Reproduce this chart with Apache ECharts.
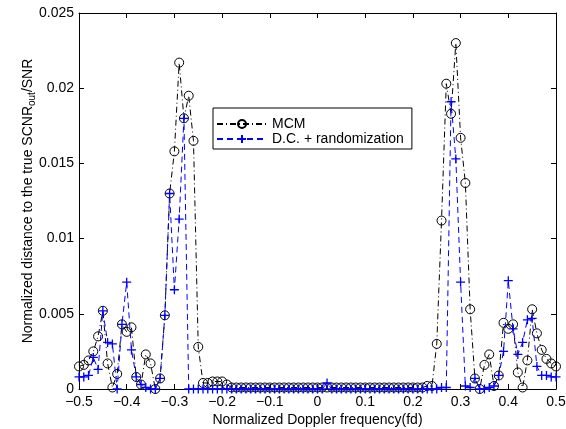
<!DOCTYPE html>
<html><head><meta charset="utf-8">
<script src="https://cdn.jsdelivr.net/npm/echarts@6/dist/echarts.min.js"></script>
<style>html,body{margin:0;padding:0;background:#fff}#c{width:566px;height:429px}</style>
</head><body><div id="c"></div>
<script>
// Normalized Doppler frequency grid
const freqs = [
 -0.50,-0.49,-0.48,-0.47,-0.46,-0.45,-0.44,-0.43,-0.42,-0.41,
 -0.40,-0.39,-0.38,-0.37,-0.36,-0.35,-0.34,-0.33,-0.32,-0.31,
 -0.30,-0.29,-0.28,-0.27,-0.26,-0.25,-0.24,-0.23,-0.22,-0.21,
 -0.20,-0.19,-0.18,-0.17,-0.16,-0.15,-0.14,-0.13,-0.12,-0.11,
 -0.10,-0.09,-0.08,-0.07,-0.06,-0.05,-0.04,-0.03,-0.02,-0.01,
  0.00, 0.01, 0.02, 0.03, 0.04, 0.05, 0.06, 0.07, 0.08, 0.09,
  0.10, 0.11, 0.12, 0.13, 0.14, 0.15, 0.16, 0.17, 0.18, 0.19,
  0.20, 0.21, 0.22, 0.23, 0.24, 0.25, 0.26, 0.27, 0.28, 0.29,
  0.30, 0.31, 0.32, 0.33, 0.34, 0.35, 0.36, 0.37, 0.38, 0.39,
  0.40, 0.41, 0.42, 0.43, 0.44, 0.45, 0.46, 0.47, 0.48, 0.49,
  0.50
];
// MCM
const mcm = [
 0.0015,0.0016,0.0019,0.0025,0.0035,0.0052,0.0017,0.0001,0.0010,0.0043,
 0.0038,0.0041,0.0008,0.0003,0.0023,0.0017,0.0000,0.0007,0.0049,0.0130,
 0.0158,0.0217,0.0180,0.0195,0.0165,0.0028,0.0004,0.0004,0.0005,0.0005,
 0.0005,0.0003,0.0001,0.0001,0.0001,0.0001,0.0001,0.0001,0.0001,0.0001,
 0.0001,0.0001,0.0001,0.0001,0.0001,0.0001,0.0001,0.0001,0.0001,0.0001,
 0.0001,0.0001,0.0001,0.0001,0.0001,0.0001,0.0001,0.0001,0.0001,0.0001,
 0.0001,0.0001,0.0001,0.0001,0.0001,0.0001,0.0001,0.0001,0.0001,0.0001,
 0.0001,0.0001,0.0001,0.0002,0.0002,0.0030,0.0112,0.0203,0.0183,0.0230,
 0.0167,0.0137,0.0053,0.0007,0.0000,0.0016,0.0023,0.0002,0.0009,0.0044,
 0.0040,0.0043,0.0011,0.0001,0.0019,0.0053,0.0037,0.0026,0.0020,0.0017,
 0.0015
];
// D.C. + randomization
const dcRand = [
 0.0008,0.0008,0.0009,0.0021,0.0013,0.0052,0.0031,0.0030,0.0000,0.0043,
 0.0071,0.0026,0.0008,0.0003,0.0001,0.0000,0.0000,0.0007,0.0049,0.0130,
 0.0066,0.0113,0.0180,0.0000,0.0000,0.0000,0.0000,0.0000,0.0000,0.0000,
 0.0000,0.0000,0.0000,0.0000,0.0000,0.0000,0.0000,0.0000,0.0000,0.0000,
 0.0000,0.0000,0.0000,0.0000,0.0000,0.0000,0.0000,0.0000,0.0000,0.0000,
 0.0000,0.0000,0.0004,0.0000,0.0000,0.0000,0.0000,0.0000,0.0000,0.0000,
 0.0000,0.0000,0.0000,0.0000,0.0000,0.0000,0.0000,0.0000,0.0000,0.0000,
 0.0000,0.0000,0.0000,0.0000,0.0000,0.0000,0.0001,0.0001,0.0191,0.0153,
 0.0071,0.0002,0.0001,0.0007,0.0000,0.0000,0.0001,0.0002,0.0009,0.0025,
 0.0072,0.0040,0.0023,0.0031,0.0046,0.0047,0.0015,0.0009,0.0009,0.0008,
 0.0008
];
const seriesNames = ['MCM', 'D.C. + randomization'];
const xTitle = 'Normalized Doppler frequency(fd)';
const yTitle = 'Normalized distance to the true SCNR{sub|out}/SNR';

const FONT = 'Liberation Sans, Arial, Helvetica, sans-serif';
const chart = echarts.init(document.getElementById('c'), null, {renderer: 'canvas'});
const fmtX = v => Math.abs(v) < 1e-9 ? '0' : (v < 0 ? '\u2212' : '') + Math.abs(v).toFixed(1);
const tickCommon = {show: true, inside: true, length: 5, lineStyle: {color: '#000', width: 1}};
const lineCommon = {show: true, onZero: false, lineStyle: {color: '#000', width: 1}};
chart.setOption({
  animation: false,
  backgroundColor: '#fff',
  grid: {left: 79, right: 10, top: 13, bottom: 40, containLabel: false, outerBoundsMode: 'none'},
  legend: {
    data: seriesNames, orient: 'vertical', left: 213, top: 108,
    padding: [9, 8, 3, 3], itemGap: 1, itemWidth: 50, itemHeight: 10,
    backgroundColor: '#fff', borderColor: '#000', borderWidth: 1, borderRadius: 0,
    selectedMode: false,
    textStyle: {fontSize: 14, fontFamily: FONT, color: '#000', lineHeight: 12}
  },
  xAxis: [{
    type: 'value', min: -0.5, max: 0.5, interval: 0.1, position: 'bottom',
    name: xTitle, nameLocation: 'middle', nameGap: 24, nameMoveOverlap: false,
    nameTextStyle: {fontSize: 14, fontFamily: FONT, color: '#000'},
    axisLine: lineCommon, axisTick: tickCommon, splitLine: {show: false},
    axisLabel: {fontSize: 14, fontFamily: FONT, color: '#000', margin: 6, formatter: fmtX}
  }, {
    type: 'value', min: -0.5, max: 0.5, interval: 0.1, position: 'top',
    axisLine: lineCommon, axisTick: tickCommon, splitLine: {show: false}, axisLabel: {show: false}
  }],
  yAxis: [{
    type: 'value', min: 0, max: 0.025, interval: 0.005, position: 'left',
    name: yTitle, nameLocation: 'middle', nameGap: 42, nameMoveOverlap: false,
    nameTextStyle: {fontSize: 14, fontFamily: FONT, color: '#000',
      rich: {sub: {fontSize: 10, fontFamily: FONT, color: '#000', padding: [7, 0, 0, 0]}}},
    axisLine: lineCommon, axisTick: tickCommon, splitLine: {show: false},
    axisLabel: {fontSize: 14, fontFamily: FONT, color: '#000', margin: 5}
  }, {
    type: 'value', min: 0, max: 0.025, interval: 0.005, position: 'right',
    axisLine: lineCommon, axisTick: tickCommon, splitLine: {show: false}, axisLabel: {show: false}
  }],
  series: [{
    name: seriesNames[0], type: 'line', xAxisIndex: 0, yAxisIndex: 0,
    data: freqs.map((f, i) => [f, mcm[i]]),
    symbol: 'circle', symbolSize: 9, showSymbol: true, showAllSymbol: true,
    itemStyle: {color: 'rgba(0,0,0,0)', borderColor: '#000', borderWidth: 1},
    lineStyle: {color: '#000', width: 1, type: [6, 3, 1, 3]},
    emphasis: {disabled: true}, z: 2
  }, {
    name: seriesNames[1], type: 'line', xAxisIndex: 0, yAxisIndex: 0,
    data: freqs.map((f, i) => [f, dcRand[i]]),
    symbol: 'path://M0,5L10,5M5,0L5,10', symbolSize: 9, showSymbol: true, showAllSymbol: true,
    itemStyle: {color: '#0000ff', borderColor: '#0000ff', borderWidth: 1.3},
    lineStyle: {color: '#0000ff', width: 1, type: [6, 4]},
    emphasis: {disabled: true}, z: 3
  }]
});
</script>
</body></html>
